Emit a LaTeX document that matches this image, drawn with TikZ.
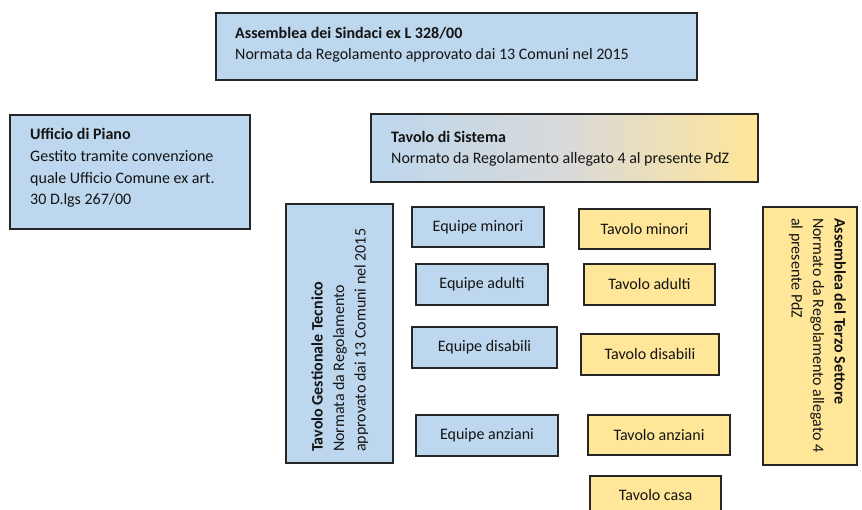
\documentclass[tikz,border=0pt]{standalone}
\usepackage{fontspec}
\setmainfont{Carlito}
\definecolor{boxblue}{RGB}{189,215,238}
\definecolor{boxyellow}{RGB}{255,230,153}
\definecolor{midgray}{RGB}{217,217,217}
\definecolor{edge}{RGB}{38,38,38}
\definecolor{txt}{RGB}{20,20,20}
\begin{document}
\begin{tikzpicture}[x=1pt,y=-1pt,
  box/.style={draw=edge,line width=1.3pt,rectangle,inner sep=0pt},
  bluebox/.style={box,fill=boxblue},
  yelbox/.style={box,fill=boxyellow},
  lbl/.style={inner sep=0pt,anchor=base west,text=txt,font=\fontsize{16}{19}\selectfont},
  ttl/.style={lbl,font=\fontsize{16}{19}\selectfont\bfseries},
  ctr/.style={inner sep=0pt,text=txt,font=\fontsize{16}{19}\selectfont}
]
\useasboundingbox (0,0) rectangle (862,510);
\fill[white] (0,0) rectangle (862,510);

% Assemblea dei Sindaci
\node[bluebox,minimum width=481pt,minimum height=67pt] (asind) at (456.5,46.5) {};
\node[ttl] (asindt) at (235,38.5) {Assemblea dei Sindaci ex L 328/00};
\node[lbl] (asindl) at (235,59.5) {Normata da Regolamento approvato dai 13 Comuni nel 2015};

% Ufficio di Piano
\node[bluebox,minimum width=240pt,minimum height=114pt] (upiano) at (130,172) {};
\node[ttl] (upianot) at (30,139.5) {Ufficio di Piano};
\node[lbl] (upiano1) at (30,161.5) {Gestito tramite convenzione};
\node[lbl] (upiano2) at (30,183.5) {quale Ufficio Comune ex art.};
\node[lbl] (upiano3) at (30,204.5) {30 D.lgs 267/00};

% Tavolo di Sistema (gradient)
\shade[left color=boxblue,right color=boxyellow,middle color=midgray] (371,114) rectangle (758,182);
\node[draw=edge,line width=1.3pt,minimum width=387pt,minimum height=68pt,inner sep=0pt] (tsis) at (564.5,148) {};
\node[ttl] (tsist) at (391,142.5) {Tavolo di Sistema};
\node[lbl] (tsisl) at (391,163.5) {Normato da Regolamento allegato 4 al presente PdZ};

% Tavolo Gestionale Tecnico (rotated)
\node[bluebox,minimum width=107pt,minimum height=259pt] (tgt) at (339.5,333.5) {};
\node[ttl,rotate=90] (tgtt) at (322.5,452) {Tavolo Gestionale Tecnico};
\node[lbl,rotate=90] (tgt1) at (344,452) {Normata da Regolamento};
\node[lbl,rotate=90] (tgt2) at (365.5,452) {approvato dai 13 Comuni nel 2015};

% Assemblea del Terzo Settore (rotated)
\node[yelbox,minimum width=94pt,minimum height=258pt] (ats) at (810,336) {};
\node[ttl,rotate=-90] (atst) at (834.5,218) {Assemblea del Terzo Settore};
\node[lbl,rotate=-90] (ats1) at (813,218) {Normato da Regolamento allegato 4};
\node[lbl,rotate=-90] (ats2) at (791.5,218) {al presente PdZ};

% Equipe
\node[bluebox,minimum width=132pt,minimum height=40pt] (emin) at (478,227) {};
\node[ctr] at (emin) {Equipe minori};
\node[bluebox,minimum width=132pt,minimum height=41pt] (eadu) at (482,284.5) {};
\node[ctr] at (eadu) {Equipe adulti};
\node[bluebox,minimum width=145pt,minimum height=41pt] (edis) at (484.5,347.5) {};
\node[ctr] at (edis) {Equipe disabili};
\node[bluebox,minimum width=142pt,minimum height=41pt] (eanz) at (487,435.5) {};
\node[ctr] at (eanz) {Equipe anziani};

% Tavoli
\node[yelbox,minimum width=131pt,minimum height=40pt] (tmin) at (644.5,229) {};
\node[ctr] at (tmin) {Tavolo minori};
\node[yelbox,minimum width=131pt,minimum height=41pt] (tadu) at (649.5,284.5) {};
\node[ctr] at (tadu) {Tavolo adulti};
\node[yelbox,minimum width=138pt,minimum height=41pt] (tdis) at (650,354.5) {};
\node[ctr] at (tdis) {Tavolo disabili};
\node[yelbox,minimum width=142pt,minimum height=40pt] (tanz) at (659,435) {};
\node[ctr] at (tanz) {Tavolo anziani};
\node[yelbox,minimum width=131pt,minimum height=40pt] (tcas) at (655.5,496) {};
\node[ctr] at (655.5,495) {Tavolo casa};
\end{tikzpicture}
\end{document}
